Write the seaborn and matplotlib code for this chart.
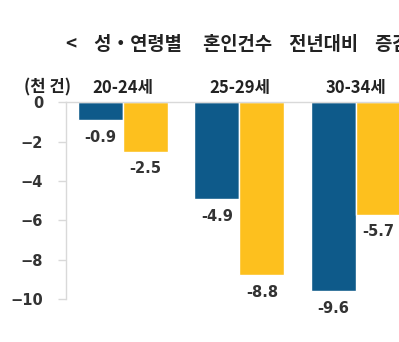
import matplotlib
matplotlib.use("Agg")
import matplotlib.pyplot as plt
import seaborn as sns
import pandas as pd

# Year-on-year change in marriages by age group (thousand cases)
age_groups = ["20-24세", "25-29세", "30-34세"]
husband = [-0.9, -4.9, -9.6]
wife = [-2.5, -8.8, -5.7]
series_names = ["남편", "아내"]
y_ticks = [-10, -8, -6, -4, -2, 0]

title = "<    성・연령별     혼인건수    전년대비    증감 >"
unit_label = "(천 건)"

BLUE = "#0E5A8A"
YELLOW = "#FDC01E"
GRID = "#d9d9d9"
TEXT = "#333333"
DARK = "#222222"
NUM_FONT = ["DejaVu Sans"]

sns.set_theme(style="white")
plt.rcParams["font.family"] = ["Noto Sans CJK KR", "DejaVu Sans"]

df = pd.DataFrame({
    "연령": age_groups * 2,
    "증감": husband + wife,
    "성별": [series_names[0]] * len(age_groups) + [series_names[1]] * len(age_groups),
})

fig = plt.figure(figsize=(3.99, 3.42), dpi=100)
ax = fig.add_axes([0.1647, 0.1257, 0.874, 0.5746])

sns.barplot(data=df, x="연령", y="증감", hue="성별", palette=[BLUE, YELLOW],
            width=0.771, saturation=1, legend=False, ax=ax)

for container in ax.containers:
    ax.bar_label(container, fmt="%.1f", padding=7, fontsize=10.5,
                 fontweight="bold", color=TEXT, family=NUM_FONT)

ax.set_ylim(-10, 0)
ax.set_xlim(-0.488, 2.5)
ax.set_yticks(y_ticks)
ax.set_xlabel("")
ax.set_ylabel("")

ax.xaxis.tick_top()
ax.tick_params(axis="x", length=0, pad=4, labelsize=12, labelcolor=DARK)
ax.tick_params(axis="y", left=True, length=5.8, width=1, color=GRID, pad=10.5,
               labelsize=10.5, labelcolor=TEXT)
for lbl in ax.get_xticklabels():
    lbl.set_fontweight("bold")
for lbl in ax.get_yticklabels():
    lbl.set_fontweight("bold")
    lbl.set_family(NUM_FONT)

for side in ["right", "bottom"]:
    ax.spines[side].set_visible(False)
for side in ["left", "top"]:
    ax.spines[side].set_color(GRID)
    ax.spines[side].set_linewidth(1)

fig.text(47 / 399, 1 - 87 / 342, unit_label, ha="center", va="center",
         fontsize=12, fontweight="bold", color=DARK)
fig.text(66 / 399, 1 - 45 / 342, title, ha="left", va="center",
         fontsize=13.5, fontweight="bold", color=DARK)

fig.savefig("out.png", dpi=100, facecolor="white")
